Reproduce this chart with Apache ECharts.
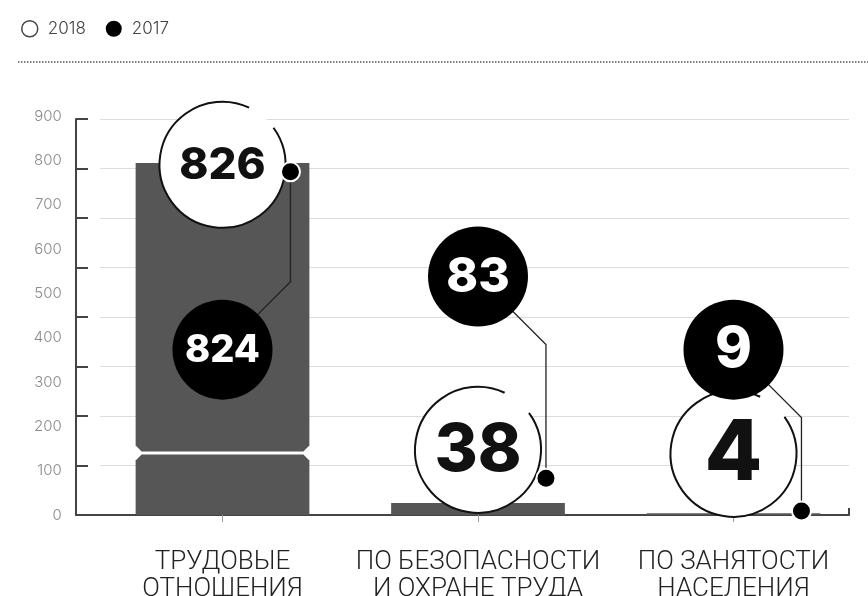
<!DOCTYPE html>
<html><head><meta charset="utf-8">
<script src="https://cdn.jsdelivr.net/npm/echarts@6/dist/echarts.min.js"></script>
<style>html,body{margin:0;padding:0;background:#fff}#c{width:868px;height:596px}</style>
</head><body><div id="c"></div>
<script>
// ---- data ----
const categories = ['ТРУДОВЫЕ\nОТНОШЕНИЯ', 'ПО БЕЗОПАСНОСТИ\nИ ОХРАНЕ ТРУДА', 'ПО ЗАНЯТОСТИ\nНАСЕЛЕНИЯ'];
const values2018 = [826, 38, 4];
const values2017 = [824, 83, 9];
const barValues = [794, 27, 4];          // drawn bar heights (first bar is broken)
const barBreakAt = [140, null, null];     // value where the bar break is drawn
const marker2017 = [774, 83, 9];          // 2017 marker dot on the (broken) scale
const bubble2018At = [790, 147, 138];     // vertical placement of 2018 bubbles
const bubble2017At = [373, 538, 373];     // vertical placement of 2017 bubbles
const yMin = 0, yMax = 900, yStep = 100;  // labelled scale
const gridMax = 800;                      // tick / gridline scale (8 intervals)

// ---- styles (kept apart from the data) ----
const font2018 = [44, 66, 84];
const font2017 = [38, 48, 56];
const BAR = '#565656';
const numFont = 'Inter, "Open Sans", sans-serif';

const chart = echarts.init(document.getElementById('c'), null, {renderer: 'canvas'});

const G0 = {left: 94.75, width: 766.5, top: 116, height: 399, outerBoundsMode: 'none', containLabel: false};
const G1 = {left: 76, right: 19, top: 119, height: 396, outerBoundsMode: 'none', containLabel: false};
const G2 = {left: 100, right: 19, top: 119, height: 396, outerBoundsMode: 'none', containLabel: false};

const option = {
  backgroundColor: '#fff',
  animation: false,
  legend: {
    left: 16, top: 15,
    itemWidth: 16, itemHeight: 16, itemGap: 20,
    selectedMode: false,
    textStyle: {fontSize: 17, color: '#444', fontFamily: 'Inter, sans-serif', fontWeight: 300, padding: [0, 0, 0, 5]},
    data: [
      {name: '2018', icon: 'circle', itemStyle: {color: '#fff', borderColor: '#444', borderWidth: 1.5}},
      {name: '2017', icon: 'circle', itemStyle: {color: '#000'}}
    ]
  },
  graphic: [{
    type: 'line', shape: {x1: 18, y1: 62, x2: 868, y2: 62},
    style: {stroke: '#555', lineWidth: 1.5, lineDash: [1.5, 1.5]}, silent: true
  }],
  grid: [G0, G1, G2],
  xAxis: [
    {type: 'category', gridIndex: 0, data: categories, boundaryGap: true,
      axisLine: {show: false},
      axisTick: {show: true, alignWithLabel: true, length: 7, lineStyle: {color: '#999', width: 1}},
      axisLabel: {interval: 0, margin: 34, fontSize: 26, lineHeight: 27, color: '#222', fontFamily: 'Roboto, sans-serif', fontWeight: 300, hideOverlap: false}
    },
    {type: 'value', gridIndex: 1, min: 0, max: 1, interval: 1,
      axisLine: {show: true, lineStyle: {color: '#444', width: 2}},
      axisTick: {show: true, inside: true, length: 7, lineStyle: {color: '#444', width: 2}},
      axisLabel: {show: false}, splitLine: {show: false}
    },
    {type: 'value', gridIndex: 2, min: 0, max: 1, show: false}
  ],
  yAxis: [
    {type: 'value', gridIndex: 0, min: yMin, max: yMax, interval: yStep,
      axisLine: {show: false}, axisTick: {show: false}, splitLine: {show: false},
      axisLabel: {margin: 33, fontSize: 15, color: '#8a8a8a', fontFamily: 'Inter, sans-serif', fontWeight: 300}
    },
    {type: 'value', gridIndex: 1, min: 0, max: gridMax, interval: 100,
      axisLine: {show: true, lineStyle: {color: '#444', width: 2}},
      axisTick: {show: true, inside: true, length: 12, lineStyle: {color: '#444', width: 2}},
      axisLabel: {show: false}, splitLine: {show: false}
    },
    {type: 'value', gridIndex: 2, min: 0, max: gridMax, interval: 100,
      axisLine: {show: false}, axisTick: {show: false}, axisLabel: {show: false},
      splitLine: {show: true, lineStyle: {color: '#dcdcdc', width: 1}}
    }
  ],
  series: [
    {
      name: 'bars', type: 'custom', xAxisIndex: 0, yAxisIndex: 0,
      data: barValues.map((v, i) => [i, v]),
      renderItem: function (params, api) {
        const i = params.dataIndex;
        const cat = api.value(0);
        const w = api.size([1, 0])[0] * 0.68;
        const b = api.coord([cat, 0]);
        const t = api.coord([cat, api.value(1)]);
        const l = b[0] - w / 2, r = b[0] + w / 2;
        const y0 = b[1], yt = t[1];
        const brk = barBreakAt[i];
        if (brk == null) {
          return {type: 'rect', shape: {x: l, y: yt, width: w, height: y0 - yt}, style: {fill: BAR}};
        }
        const yb = api.coord([cat, brk])[1];
        const g = 1.5, ch = 6;
        return {type: 'group', children: [
          {type: 'polygon', shape: {points: [[l, y0], [r, y0], [r, yb + g + ch], [r - ch, yb + g], [l + ch, yb + g], [l, yb + g + ch]]}, style: {fill: BAR}},
          {type: 'polygon', shape: {points: [[l, yt], [r, yt], [r, yb - g - ch], [r - ch, yb - g], [l + ch, yb - g], [l, yb - g - ch]]}, style: {fill: BAR}}
        ]};
      }
    },
    {
      name: '2018', type: 'custom', xAxisIndex: 0, yAxisIndex: 0,
      itemStyle: {color: '#fff', borderColor: '#444'},
      data: values2018.map((v, i) => [i, bubble2018At[i], v]),
      renderItem: function (params, api) {
        const i = params.dataIndex;
        const p = api.coord([api.value(0), api.value(1)]);
        const r = 63;
        const a0 = -36 * Math.PI / 180, a1 = 295 * Math.PI / 180;
        return {type: 'group', children: [
          {type: 'circle', shape: {cx: p[0], cy: p[1], r: r}, style: {fill: '#fff'}},
          {type: 'arc', shape: {cx: p[0], cy: p[1], r: r, startAngle: a0, endAngle: a1, clockwise: true},
            style: {stroke: '#111', lineWidth: 2, fill: null}},
          {type: 'text', x: p[0], y: p[1] + 1, style: {text: String(api.value(2)), fill: '#111',
            fontSize: font2018[i], fontWeight: 800, fontFamily: numFont, align: 'center', verticalAlign: 'middle'}}
        ]};
      }
    },
    {
      name: '2017', type: 'custom', xAxisIndex: 0, yAxisIndex: 0,
      itemStyle: {color: '#000'},
      data: values2017.map((v, i) => [i, bubble2017At[i], marker2017[i], v]),
      renderItem: function (params, api) {
        const i = params.dataIndex;
        const cat = api.value(0);
        const c = api.coord([cat, api.value(1)]);
        const d = api.coord([cat, api.value(2)]);
        const dx = api.size([1, 0])[0] * 0.266;
        const dotX = c[0] + dx;
        const bendY = d[1] < c[1] ? c[1] - dx : c[1] + dx;
        return {type: 'group', children: [
          {type: 'polyline', shape: {points: [[dotX, d[1]], [dotX, bendY], [c[0], c[1]]]},
            style: {stroke: '#222', lineWidth: 1.3, fill: null}},
          {type: 'circle', shape: {cx: c[0], cy: c[1], r: 50}, style: {fill: '#000'}},
          {type: 'text', x: c[0], y: c[1] + 1, style: {text: String(api.value(3)), fill: '#fff',
            fontSize: font2017[i], fontWeight: 800, fontFamily: numFont, align: 'center', verticalAlign: 'middle'}},
          {type: 'circle', shape: {cx: dotX, cy: d[1], r: 9.5}, style: {fill: '#000', stroke: '#fff', lineWidth: 2}}
        ]};
      }
    }
  ]
};
chart.setOption(option);
</script>
</body></html>
